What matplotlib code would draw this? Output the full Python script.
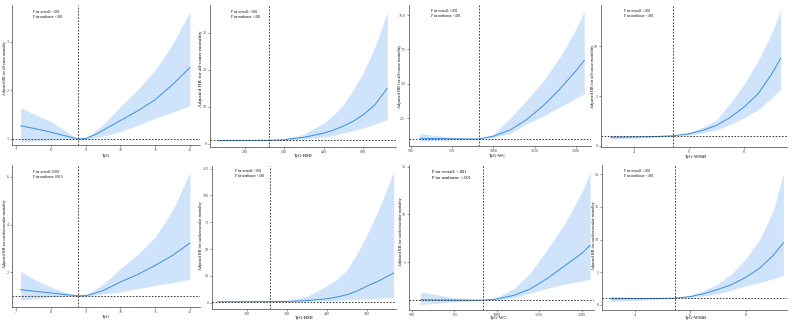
import matplotlib
matplotlib.use("Agg")
import matplotlib.pyplot as plt

plt.rcParams["font.family"]=["Liberation Serif","DejaVu Serif"]

# ---- data (x, HR, 95% CI) ----
tyg_x=[7.13,7.5,8.0,8.5,8.78,9.0,9.25,9.5,9.75,10.0,10.5,11.0,11.5,12.0]
tyg_ac_hr=[1.27,1.22,1.14,1.05,1.00,1.01,1.08,1.18,1.28,1.38,1.58,1.81,2.12,2.47]
tyg_ac_lo=[0.94,0.96,0.98,0.99,1.00,0.99,1.02,1.06,1.10,1.15,1.28,1.43,1.55,1.68]
tyg_ac_hi=[1.65,1.52,1.36,1.13,1.00,1.03,1.15,1.30,1.48,1.67,2.02,2.42,2.95,3.62]
tyg_cv_hr=[1.26,1.20,1.12,1.04,1.00,1.01,1.10,1.22,1.40,1.58,1.90,2.28,2.70,3.22]
tyg_cv_lo=[0.81,0.88,0.95,0.99,1.00,0.99,1.03,1.08,1.12,1.16,1.30,1.44,1.56,1.69]
tyg_cv_hi=[2.04,1.70,1.37,1.10,1.00,1.04,1.25,1.50,1.80,2.14,2.75,3.47,4.60,6.18]

bmi_ac_x=[132,175,220,261.7,300,350,400,425,450,475,500,530,562]
bmi_ac_hr=[0.95,0.96,0.98,1.00,1.15,1.80,2.90,3.70,4.80,6.10,7.80,10.5,15.0]
bmi_ac_lo=[0.85,0.88,0.93,1.00,1.05,1.35,1.80,2.30,2.90,3.60,4.30,5.30,6.50]
bmi_ac_hi=[1.08,1.05,1.03,1.00,1.30,2.70,5.60,7.80,10.5,14.5,19.0,26.0,35.4]
bmi_cv_x=[126,175,220,258,300,350,400,425,450,475,500,530,566]
bmi_cv_hr=[0.95,0.96,0.98,1.00,1.20,2.00,3.70,5.30,7.50,11.0,15.6,20.5,27.7]
bmi_cv_lo=[0.80,0.85,0.93,1.00,1.05,1.35,1.70,2.10,2.60,3.10,3.70,4.40,5.30]
bmi_cv_hi=[1.12,1.08,1.03,1.00,1.40,6.00,16.0,22.0,31.0,46.0,64.0,88.0,122.0]

wc_ac_x=[554,650,750,850,910,1000,1100,1200,1300,1400,1500,1550]
wc_ac_hr=[1.05,1.03,1.01,1.00,1.00,1.20,1.65,2.40,3.40,4.60,5.95,6.70]
wc_ac_lo=[0.82,0.88,0.93,0.98,1.00,1.10,1.40,2.10,2.65,3.30,3.95,4.27]
wc_ac_hi=[1.40,1.25,1.12,1.03,1.00,1.35,2.50,3.80,5.20,6.90,9.00,10.25]
wc_cv_x=[550,650,750,850,920,1000,1100,1200,1300,1400,1500,1550]
wc_cv_hr=[1.05,1.03,1.01,1.00,1.00,1.12,1.50,2.20,3.30,4.60,5.90,6.75]
wc_cv_lo=[0.53,0.68,0.82,0.95,1.00,0.98,1.25,1.75,2.25,2.70,3.00,3.20]
wc_cv_hi=[1.86,1.55,1.25,1.05,1.00,1.30,2.20,3.90,6.40,9.00,12.3,14.4]

whtr_ac_x=[3.15,3.8,4.5,5.0,5.42,6.0,6.5,7.0,7.5,8.0,8.5,9.0,9.33]
whtr_ac_hr=[0.85,0.87,0.90,0.95,1.00,1.20,1.55,2.05,2.85,3.90,5.20,7.20,8.80]
whtr_ac_lo=[0.68,0.73,0.80,0.90,1.00,1.08,1.30,1.60,2.15,2.80,3.60,4.80,5.70]
whtr_ac_hi=[1.05,1.02,1.00,1.00,1.00,1.35,1.85,2.60,4.30,6.20,8.50,11.3,13.6]
whtr_cv_x=[3.12,3.8,4.5,5.0,5.44,6.0,6.5,7.0,7.5,8.0,8.5,9.0,9.36]
whtr_cv_hr=[0.90,0.92,0.95,0.97,1.00,1.25,1.70,2.35,3.10,4.20,5.60,7.60,9.50]
whtr_cv_lo=[0.50,0.62,0.75,0.88,1.00,1.10,1.35,1.70,2.25,2.90,3.40,4.00,4.50]
whtr_cv_hi=[1.30,1.20,1.10,1.02,1.00,1.45,2.20,3.20,4.80,7.00,10.0,14.5,20.2]

knots=[8.78,261.7,910,5.42,8.78,258,920,5.44]
x_names=["TyG","TyG-BMI","TyG-WC","TyG-WHtR"]*2
y_names=["Adjusted HR for all-cause mortality"]*4+["Adjusted HR for cardiovascular mortality"]*4
p_overall=["<.001","<.001","<.001","<.001","0.002","<.001","<.001","<.001"]
p_nonlinear=["<.001","<.001","<.001","<.001","0.019","<.001","<.001","<.001"]

series=[(tyg_x,tyg_ac_hr,tyg_ac_lo,tyg_ac_hi),
        (bmi_ac_x,bmi_ac_hr,bmi_ac_lo,bmi_ac_hi),
        (wc_ac_x,wc_ac_hr,wc_ac_lo,wc_ac_hi),
        (whtr_ac_x,whtr_ac_hr,whtr_ac_lo,whtr_ac_hi),
        (tyg_x,tyg_cv_hr,tyg_cv_lo,tyg_cv_hi),
        (bmi_cv_x,bmi_cv_hr,bmi_cv_lo,bmi_cv_hi),
        (wc_cv_x,wc_cv_hr,wc_cv_lo,wc_cv_hi),
        (whtr_cv_x,whtr_cv_hr,whtr_cv_lo,whtr_cv_hi)]

# ---- layout (pixel boxes: left, top, right, bottom) ----
W,H=793,324
boxes=[(12.3,5,200,145),(210.3,5,396,147),(408.7,5,591,145.7),(600.7,5,787,146.7),
       (12.3,165.3,200,307),(212.3,166,396,308.7),(409.3,164.7,594,309.7),(602.3,165.3,787,310.3)]
xlims=[(6.89,12.29),(112.7,584),(486,1591),(2.79,9.56),
       (6.89,12.29),(112.5,572),(484,1573),(2.82,9.49)]
ylims=[(0.876,3.76),(-0.81,37.4),(0.51,10.73),(-0.1,14.17),
       (0.53,6.49),(-5.6,127.5),(0.0,15.2),(-0.86,21.4)]
xticks=[[7,8,9,10,11,12],[200,300,400,500],[500,750,1000,1250,1500],[4,6,8]]*2
yticks=[[1,2,3],[0,10,20,30],[2.5,5.0,7.5,10.0],[0,5,10],
        [2,4,6],[0,25,50,75,100,125],[5,10,15],[0,5,10,15,20]]
ylab_pos=[(5,68),(201,69),(399.5,76),(593,76),(5,234),(201,236),(401,232),(594,236)]
ylab_fs=[2.7,3.8,3.2,3.2,3.0,3.0,3.0,3.0]
xlab_pos=[(106,155.5),(303,155.5),(497.7,156.5),(695.7,157),(106,317),(304.7,318),(499,318.5),(695.7,318.5)]
p_pos=[(33.3,11.7),(231.3,11.7),(431,11),(624,11),(33.3,172),(234.7,171.3),(432,172),(624,171)]
p_fs=[2.4,2.4,2.4,2.4,2.4,2.4,3.2,2.4]

line_col="#3b8de0"
band_col="#cfe4fb"

fig=plt.figure(figsize=(7.93,3.24),dpi=100)
for i,(x,hr,lo,hi) in enumerate(series):
    l,t,r,b=boxes[i]
    ax=fig.add_axes([l/W,1-b/H,(r-l)/W,(b-t)/H])
    ax.fill_between(x,lo,hi,color=band_col,lw=0)
    ax.plot(x,hr,color=line_col,lw=0.7)
    ax.axvline(knots[i],color="#222222",lw=0.6,ls=(0,(2,1.8)))
    ax.axhline(1,color="#222222",lw=0.6,ls=(0,(2,1.8)))
    ax.set_xlim(*xlims[i])
    ax.set_ylim(*ylims[i])
    ax.set_xticks(xticks[i])
    ax.set_yticks(yticks[i])
    if i==2:
        ax.set_yticklabels([f"{v:.1f}" for v in yticks[i]])
    for s in ["top","right"]:
        ax.spines[s].set_visible(False)
    for s in ["left","bottom"]:
        ax.spines[s].set_linewidth(0.5)
        ax.spines[s].set_color("#444444")
    ax.tick_params(labelsize=3,length=1.5,width=0.4,pad=0.8,colors="#444444")
    ax.set_facecolor("none")
    fig.text(ylab_pos[i][0]/W,1-ylab_pos[i][1]/H,y_names[i],rotation=90,
             ha="center",va="center",fontsize=ylab_fs[i])
    fig.text(xlab_pos[i][0]/W,1-xlab_pos[i][1]/H,x_names[i],
             ha="center",va="center",fontsize=3.4)
    px,py=p_pos[i]
    fig.text(px/W,1-py/H,"P for overall: "+p_overall[i],ha="left",va="center",fontsize=p_fs[i])
    fig.text(px/W,1-(py+4.8*p_fs[i]/2.4)/H,"P for nonlinear: "+p_nonlinear[i],
             ha="left",va="center",fontsize=p_fs[i])

fig.savefig("out.png",dpi=100)
